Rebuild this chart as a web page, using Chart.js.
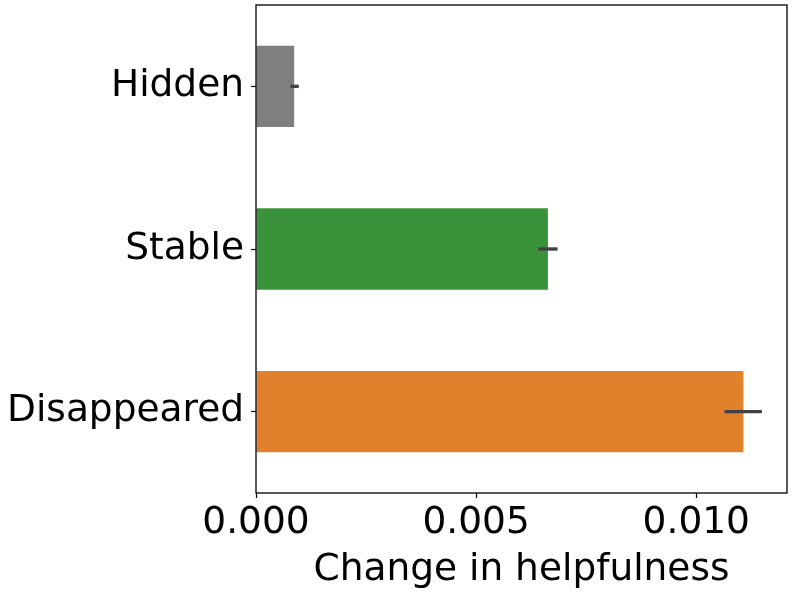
<!DOCTYPE html>
<html><head><meta charset="utf-8">
<script src="https://cdn.jsdelivr.net/npm/chart.js@4/dist/chart.umd.min.js"></script>
<style>html,body{margin:0;padding:0;background:#fff}#wrap{width:793px;height:594px}</style>
</head><body><div id="wrap"><canvas id="c" width="793" height="594"></canvas></div>
<script>
const categories = ['Hidden', 'Stable', 'Disappeared'];
const values = [0.000867, 0.00663, 0.01107];
const errLow = [0.000785, 0.00641, 0.01064];
const errHigh = [0.000973, 0.00685, 0.01149];
const barColors = ['#7f7f7f', '#3a923a', '#e1812c'];
const xTicks = [0, 0.005, 0.010];

const FONT = 'DejaVu Sans';
const FS = 37.5;

const frameAndErr = {
  id: 'frameAndErr',
  afterDatasetsDraw(chart) {
    const ctx = chart.ctx, a = chart.chartArea;
    const xs = chart.scales.x, ys = chart.scales.y;
    ctx.save();
    ctx.strokeStyle = '#424242';
    ctx.lineWidth = 3.4;
    ctx.lineCap = 'butt';
    for (let i = 0; i < categories.length; i++) {
      const y = ys.getPixelForValue(i);
      ctx.beginPath();
      ctx.moveTo(xs.getPixelForValue(errLow[i]), y);
      ctx.lineTo(xs.getPixelForValue(errHigh[i]), y);
      ctx.stroke();
    }
    ctx.strokeStyle = '#000';
    ctx.lineWidth = 1.3;
    ctx.strokeRect(a.left, a.top, a.right - a.left, a.bottom - a.top);
    ctx.restore();
  }
};

new Chart(document.getElementById('c'), {
  type: 'bar',
  data: {
    labels: categories,
    datasets: [{ data: values, backgroundColor: barColors, borderWidth: 0,
      barPercentage: 0.5, categoryPercentage: 1.0 }]
  },
  options: {
    indexAxis: 'y',
    responsive: false,
    animation: false,
    devicePixelRatio: 1,
    layout: { padding: { left: 0, right: 6, top: 5, bottom: 0 } },
    plugins: { legend: { display: false }, tooltip: { enabled: false } },
    scales: {
      x: {
        min: 0, max: 0.01206,
        afterBuildTicks(s) { s.ticks = xTicks.map(v => ({ value: v })); },
        afterFit(s) { s.height = 101; s.paddingLeft = 0; s.paddingRight = 0; },
        border: { display: false },
        grid: { drawOnChartArea: false, drawTicks: true, tickLength: 5, tickColor: '#000', tickWidth: 1.2 },
        ticks: { color: '#000', font: { family: FONT, size: FS }, padding: 3,
          maxRotation: 0, callback: v => Number(v).toFixed(3) },
        title: { display: true, text: 'Change in helpfulness', color: '#000',
          font: { family: FONT, size: FS }, padding: { top: 0, bottom: 1 } }
      },
      y: {
        afterFit(s) { s.width = 256; s.paddingTop = 0; s.paddingBottom = 0; },
        border: { display: false },
        grid: { offset: false, drawOnChartArea: false, drawTicks: true, tickLength: 5, tickColor: '#000', tickWidth: 1.2 },
        ticks: { color: '#000', font: { family: FONT, size: FS }, padding: 7 }
      }
    }
  },
  plugins: [frameAndErr]
});
</script></body></html>
